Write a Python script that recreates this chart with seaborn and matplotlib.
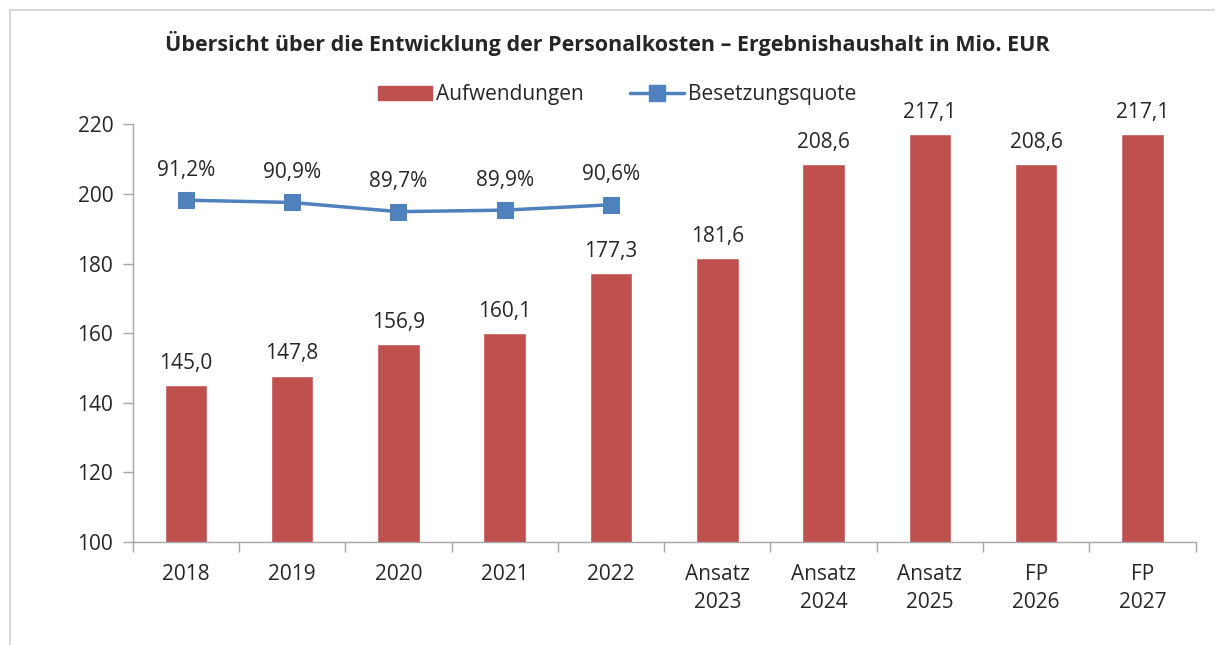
import matplotlib
matplotlib.use("Agg")
import matplotlib.pyplot as plt
import seaborn as sns
from matplotlib.patches import Patch, Rectangle
from matplotlib.lines import Line2D

# chart data
categories = ["2018", "2019", "2020", "2021", "2022",
              "Ansatz\n2023", "Ansatz\n2024", "Ansatz\n2025", "FP\n2026", "FP\n2027"]
aufwendungen = [145.0, 147.8, 156.9, 160.1, 177.3, 181.6, 208.6, 217.1, 208.6, 217.1]
quote_years = ["2018", "2019", "2020", "2021", "2022"]
besetzungsquote = [91.2, 90.9, 89.7, 89.9, 90.6]

bar_color = "#C0504D"
line_color = "#4F81BD"
axis_color = "#A6A6A6"
fs = 15

sns.set_theme(style="white")
plt.rcParams["font.family"] = ["Open Sans", "DejaVu Sans"]

fig = plt.figure(figsize=(12.15, 6.45), dpi=100)
ax = fig.add_axes([0.1092, 0.1597, 0.8749, 0.6476])

sns.barplot(x=categories, y=aufwendungen, color=bar_color, width=0.4,
            saturation=1, ax=ax)
ax.set_ylim(100, 220)
ax.set_xlim(-0.5, len(categories) - 0.5)
ax.set_yticks(range(100, 221, 20))
ax.set_xlabel("")
ax.set_ylabel("")

for i, v in enumerate(aufwendungen):
    ax.annotate(f"{v:.1f}".replace(".", ","), (i, v), xytext=(0, 8),
                textcoords="offset points", ha="center", va="bottom", fontsize=fs)

# x ticks sit on category boundaries, labels in the middle
ax.set_xticks([i - 0.5 for i in range(len(categories) + 1)], minor=False)
ax.set_xticklabels([])
ax.set_xticks(range(len(categories)), minor=True)
ax.set_xticklabels(categories, minor=True, fontsize=fs, linespacing=1.4)
ax.tick_params(axis="x", which="major", direction="out", length=7, width=1,
               color=axis_color, bottom=True)
ax.tick_params(axis="x", which="minor", length=0, pad=16, bottom=True)
ax.tick_params(axis="y", direction="out", length=7, width=1, color=axis_color,
               left=True, labelsize=fs, pad=7)

for side in ["top", "right"]:
    ax.spines[side].set_visible(False)
for side in ["left", "bottom"]:
    ax.spines[side].set_color(axis_color)
    ax.spines[side].set_linewidth(1)

# Besetzungsquote on a hidden secondary axis
ax2 = ax.twinx()
sns.lineplot(x=list(range(len(quote_years))), y=besetzungsquote, ax=ax2,
             color=line_color, linewidth=2.5, marker="s", markersize=11,
             markeredgecolor=line_color)
ax2.set_ylim(46.6, 101.1)
ax2.set_xlim(-0.5, len(categories) - 0.5)
ax2.axis("off")
for i, q in enumerate(besetzungsquote):
    ax2.annotate(f"{q:.1f}%".replace(".", ","), (i, q), xytext=(0, 14),
                 textcoords="offset points", ha="center", va="bottom", fontsize=fs)

fig.suptitle("Übersicht über die Entwicklung der Personalkosten – Ergebnishaushalt in Mio. EUR",
             x=0.5, y=0.952, fontsize=15.5, fontweight="bold")

handles = [Patch(color=bar_color, label="Aufwendungen"),
           Line2D([0], [0], color=line_color, lw=2.5, marker="s", markersize=11,
                  label="Besetzungsquote")]
fig.legend(handles=handles, loc="center", bbox_to_anchor=(0.508, 0.853), ncol=2,
           frameon=False, fontsize=fs, handlelength=2.6, handletextpad=0.2,
           columnspacing=2.2)

# light frame around the chart
fig.patches.append(Rectangle((10 / 1215, -0.1), 1.2, 1 - 10 / 645 + 0.1,
                             transform=fig.transFigure, fill=False,
                             edgecolor="#D9D9D9", linewidth=1.5))

fig.savefig("out.png", dpi=100)
